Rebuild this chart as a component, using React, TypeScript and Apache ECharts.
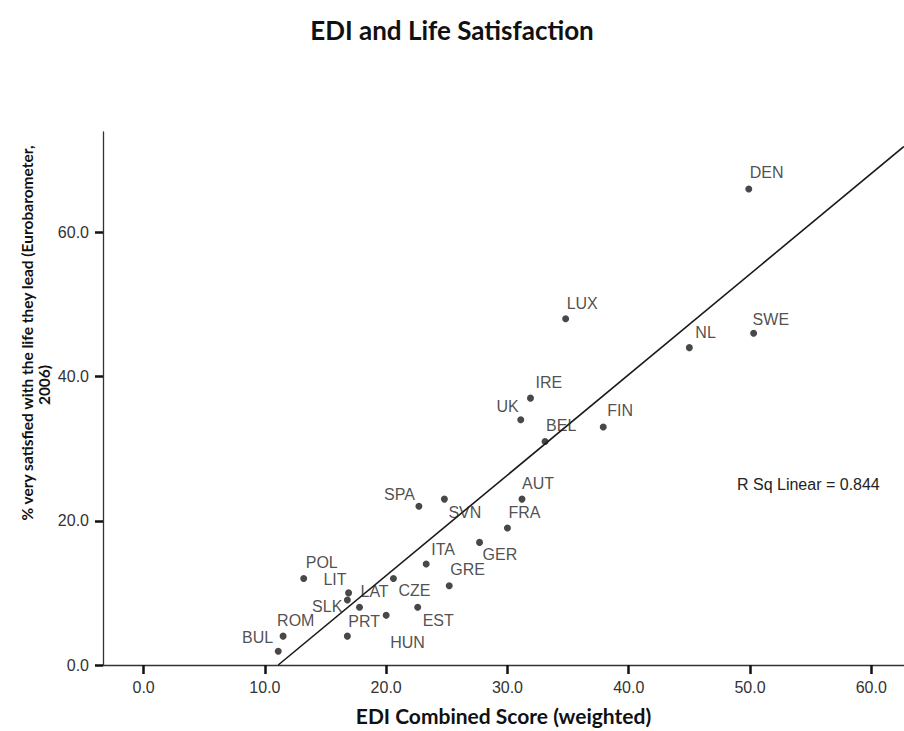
import React, { useEffect, useRef } from "react";
import * as echarts from "echarts";

// ---- Data ----
const countries = ["BUL", "ROM", "POL", "LIT", "SLK", "LAT", "PRT", "HUN", "CZE", "EST", "ITA", "GRE", "GER", "SPA", "SVN", "FRA", "AUT", "BEL", "UK", "IRE", "FIN", "LUX", "NL", "SWE", "DEN"];
const ediScore = [11.1, 11.5, 13.2, 16.9, 16.8, 17.8, 16.8, 20.0, 20.6, 22.6, 23.3, 25.2, 27.7, 22.7, 24.8, 30.0, 31.2, 33.1, 31.1, 31.9, 37.9, 34.8, 45.0, 50.3, 49.9];
const satisfied = [1.9, 4.0, 12.0, 10.0, 9.0, 8.0, 4.0, 6.9, 12.0, 8.0, 14.0, 11.0, 17.0, 22.0, 23.0, 19.0, 23.0, 31.0, 34.0, 37.0, 33.0, 48.0, 44.0, 46.0, 66.0];
const fitLine = [[11.1, 0], [62.7, 71.9]];
const xTicks = [0, 10, 20, 30, 40, 50, 60];
const yTicks = [0, 20, 40, 60];
const rSquared = 0.844;

const titleText = "EDI and Life Satisfaction";
const xTitle = "EDI Combined Score (weighted)";
const yTitleLine1 = "% very satisfied with the life they lead (Eurobarometer,";
const yTitleLine2 = "2006)";

// ---- Label placement (layout, not data): [dx, dy, align] relative to the point ----
const labelPlacement: [number, number, string][] = [
  [-5, -14, "right"], // BUL
  [-6, -16, "left"], // ROM
  [2, -16, "left"], // POL
  [-2, -13, "right"], // LIT
  [-5, 6, "right"], // SLK
  [1, -16, "left"], // LAT
  [1, -15, "left"], // PRT
  [4, 27, "left"], // HUN
  [5, 12, "left"], // CZE
  [5, 13, "left"], // EST
  [5, -15, "left"], // ITA
  [1, -16, "left"], // GRE
  [3, 12, "left"], // GER
  [-4, -12, "right"], // SPA
  [4, 13, "left"], // SVN
  [1, -15, "left"], // FRA
  [0, -16, "left"], // AUT
  [1, -16, "left"], // BEL
  [-2, -13, "right"], // UK
  [5, -16, "left"], // IRE
  [4, -16, "left"], // FIN
  [1, -15, "left"], // LUX
  [6, -15, "left"], // NL
  [-1, -14, "left"], // SWE
  [1, -16, "left"], // DEN
];

const SANS = "'Liberation Sans', Arial, sans-serif";
const BOLD = "Lato, 'Open Sans', sans-serif";
const DOT = 7;

export default function App() {
  const ref = useRef<HTMLDivElement>(null);

  useEffect(() => {
    if (!ref.current) return;
    const chart = echarts.init(ref.current, undefined, { renderer: "svg" });

    const scatterData = countries.map((c, i) => {
      const p = labelPlacement[i];
      return {
        name: c,
        value: [ediScore[i], satisfied[i]],
        label: {
          show: true,
          position: [DOT / 2 + p[0], DOT / 2 + p[1]],
          align: p[2],
          verticalAlign: "middle",
        },
      };
    });

    chart.setOption({
      animation: false,
      backgroundColor: "#ffffff",
      title: {
        text: titleText,
        left: "center",
        top: 12,
        textStyle: { fontFamily: BOLD, fontWeight: "bold", fontSize: 26, color: "#111" },
      },
      grid: { left: 103, right: 0, top: 132, bottom: 62, containLabel: false },
      xAxis: {
        type: "value",
        min: -3.35,
        max: 62.7,
        name: xTitle,
        nameLocation: "middle",
        nameGap: 40,
        nameTextStyle: { fontFamily: BOLD, fontWeight: "bold", fontSize: 21, color: "#111" },
        axisLine: { show: true, onZero: false, lineStyle: { color: "#333", width: 1.3 } },
        axisTick: { show: true, length: 9, lineStyle: { color: "#111", width: 2.5 }, customValues: xTicks },
        axisLabel: {
          show: true,
          customValues: xTicks,
          margin: 14,
          fontFamily: SANS,
          fontSize: 16,
          color: "#333",
          formatter: (v: number) => v.toFixed(1),
        },
        splitLine: { show: false },
      },
      yAxis: {
        type: "value",
        min: 0,
        max: 73.9,
        axisLine: { show: true, onZero: false, lineStyle: { color: "#333", width: 1.3 } },
        axisTick: { show: true, length: 8, lineStyle: { color: "#111", width: 2.5 }, customValues: yTicks },
        axisLabel: {
          show: true,
          customValues: yTicks,
          margin: 14,
          fontFamily: SANS,
          fontSize: 16,
          color: "#333",
          formatter: (v: number) => v.toFixed(1),
        },
        splitLine: { show: false },
      },
      graphic: [
        {
          type: "text",
          x: 27,
          y: 333,
          rotation: Math.PI / 2,
          style: {
            text: yTitleLine1,
            fontFamily: BOLD,
            fontWeight: "bold",
            fontSize: 15.5,
            fill: "#111",
            textAlign: "center",
            textVerticalAlign: "middle",
          },
        },
        {
          type: "text",
          x: 44,
          y: 385,
          rotation: Math.PI / 2,
          style: {
            text: yTitleLine2,
            fontFamily: BOLD,
            fontWeight: "bold",
            fontSize: 15.5,
            fill: "#111",
            textAlign: "center",
            textVerticalAlign: "middle",
          },
        },
        {
          type: "text",
          x: 737,
          y: 484,
          style: {
            text: "R Sq Linear = " + rSquared.toFixed(3),
            fontFamily: SANS,
            fontSize: 16,
            fill: "#222",
            textAlign: "left",
            textVerticalAlign: "middle",
          },
        },
      ],
      series: [
        {
          type: "line",
          data: fitLine,
          symbol: "none",
          silent: true,
          lineStyle: { color: "#1a1a1a", width: 1.6 },
          z: 1,
        },
        {
          type: "scatter",
          data: scatterData,
          symbol: "circle",
          symbolSize: DOT,
          itemStyle: { color: "#1a1a1a" },
          label: {
            show: true,
            formatter: "{b}",
            fontFamily: SANS,
            fontSize: 16,
            color: "#222",
          },
          labelLayout: { hideOverlap: false },
          z: 2,
        },
      ],
    });

    return () => chart.dispose();
  }, []);

  return (
    <div
      ref={ref}
      style={{ position: "absolute", left: 0, top: 0, width: 904, height: 731, background: "#fff" }}
    />
  );
}
